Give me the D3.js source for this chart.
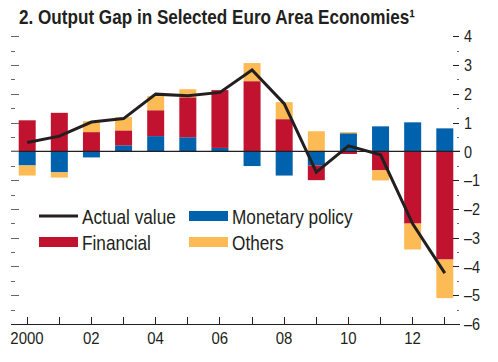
<!DOCTYPE html>
<html>
<head>
<meta charset="utf-8">
<script src="https://cdn.jsdelivr.net/npm/d3@7"></script>
<style>
  html, body { margin: 0; padding: 0; background: #fff; }
  svg { display: block; }
  text { font-family: "Liberation Sans", Arial, Helvetica, sans-serif; fill: #231f20; }
</style>
</head>
<body>
<svg id="chart" width="498" height="362"></svg>
<script>
const years = [2000,2001,2002,2003,2004,2005,2006,2007,2008,2009,2010,2011,2012,2013];
const monetary  = [-0.49,-0.73,-0.21, 0.21, 0.53, 0.49, 0.12,-0.51,-0.84,-0.49, 0.63, 0.87, 1.01, 0.80];
const financial = [ 1.08, 1.34, 0.67, 0.52, 0.90, 1.39, 2.01, 2.44, 1.12,-0.51,-0.09,-0.66,-2.51,-3.76];
const others    = [-0.35,-0.18, 0.38, 0.46, 0.49, 0.28, 0.00, 0.63, 0.59, 0.70, 0.04,-0.35,-0.90,-1.34];
const actual    = [ 0.31, 0.53, 1.02, 1.14, 1.99, 1.93, 2.05, 2.83, 1.66,-0.72, 0.19,-0.12,-2.52,-4.23];
const yTicks = [4,3,2,1,0,-1,-2,-3,-4,-5,-6];
const xTickLabels = ["2000","02","04","06","08","10","12"];
const seriesNames = ["Monetary policy","Financial","Others"];
const colors = {"Monetary policy":"#0061ad","Financial":"#c1132f","Others":"#fdbb55","Actual value":"#231f20"};
const title = "2. Output Gap in Selected Euro Area Economies\u00B9";

const svg = d3.select("#chart");
const x = d3.scaleLinear().domain([2000, 2013]).range([26.7, 444.3]);
const y = d3.scaleLinear().domain([-6, 4]).range([324, 36.3]);
const left = 11, right = 460, barW = 17;

function condense(sel, f) {
  sel.each(function() {
    const w = this.getComputedTextLength();
    d3.select(this).attr("textLength", w * f).attr("lengthAdjust", "spacingAndGlyphs");
  });
}

// title
svg.append("text").attr("x", 19).attr("y", 24)
  .attr("font-size", 20.5).attr("font-weight", "bold")
  .attr("textLength", 396).attr("lengthAdjust", "spacingAndGlyphs")
  .text(title);

// stacked data
const table = years.map((yr, i) => ({year: yr, "Monetary policy": monetary[i], "Financial": financial[i], "Others": others[i]}));
const stack = d3.stack().keys(seriesNames).offset(d3.stackOffsetDiverging);
const layers = stack(table);

svg.append("g").selectAll("g").data(layers).join("g")
  .attr("fill", d => colors[d.key])
  .selectAll("rect").data(d => d).join("rect")
  .attr("x", d => x(d.data.year) + 0.5 - barW / 2)
  .attr("width", barW)
  .attr("y", d => y(Math.max(d[0], d[1])))
  .attr("height", d => Math.abs(y(d[0]) - y(d[1])));

// zero line
svg.append("line").attr("x1", left).attr("x2", right).attr("y1", y(0)).attr("y2", y(0))
  .attr("stroke", "#231f20").attr("stroke-width", 1.4);

// actual line
const line = d3.line().x((d, i) => x(years[i]) + 0.5).y(d => y(d));
svg.append("path").datum(actual).attr("d", line)
  .attr("fill", "none").attr("stroke", colors["Actual value"]).attr("stroke-width", 3)
  .attr("stroke-linejoin", "miter");

// y ticks left and right
const halfTicks = d3.range(-6, 4.01, 0.5);
const tg = svg.append("g");
halfTicks.forEach(v => {
  const major = Math.abs(v - Math.round(v)) < 1e-6;
  const yy = Math.round(y(v)) + 0.5;
  tg.append("line").attr("x1", left).attr("x2", major ? left + 8 : left + 4)
    .attr("y1", yy).attr("y2", yy).attr("stroke", "#666").attr("stroke-width", 1);
  tg.append("line").attr("x1", major ? right - 7 : right - 3).attr("x2", right - 1)
    .attr("y1", yy).attr("y2", yy).attr("stroke", major ? "#231f20" : "#666").attr("stroke-width", 1);
});
const yl = svg.append("g").selectAll("text").data(yTicks).join("text")
  .attr("x", 464).attr("y", d => y(d)).attr("dy", "0.36em")
  .attr("font-size", 17)
  .text(d => d < 0 ? "\u2013" + Math.abs(d) : String(d));
condense(yl, 0.85);

// x axis
svg.append("line").attr("x1", left).attr("x2", right).attr("y1", 324.5).attr("y2", 324.5)
  .attr("stroke", "#231f20").attr("stroke-width", 1);
svg.append("g").selectAll("line").data(years).join("line")
  .attr("x1", d => Math.round(x(d)) + 0.5).attr("x2", d => Math.round(x(d)) + 0.5)
  .attr("y1", 324).attr("y2", 317).attr("stroke", "#231f20").attr("stroke-width", 1);
const xl = svg.append("g").selectAll("text").data(xTickLabels).join("text")
  .attr("x", (d, i) => x(years[i * 2]) + 0.3).attr("y", 344)
  .attr("text-anchor", "middle").attr("font-size", 17).text(d => d);
condense(xl, 0.88);

// legend
const legendItems = [
  {name: "Actual value", type: "line", lx: 39, ly: 216},
  {name: "Financial", type: "rect", lx: 39, ly: 242},
  {name: "Monetary policy", type: "rect", lx: 189, ly: 216},
  {name: "Others", type: "rect", lx: 189, ly: 242}
];
const lg = svg.append("g");
legendItems.forEach(it => {
  if (it.type === "line") {
    lg.append("line").attr("x1", it.lx).attr("x2", it.lx + 39).attr("y1", it.ly).attr("y2", it.ly)
      .attr("stroke", colors[it.name]).attr("stroke-width", 3);
  } else {
    lg.append("rect").attr("x", it.lx).attr("y", it.ly - 5).attr("width", 39).attr("height", 10)
      .attr("fill", colors[it.name]);
  }
  const tx = lg.append("text").attr("x", it.lx + 43).attr("y", it.ly + 8)
    .attr("font-size", 21).text(it.name);
  condense(tx, 0.82);
});
</script>
</body>
</html>
